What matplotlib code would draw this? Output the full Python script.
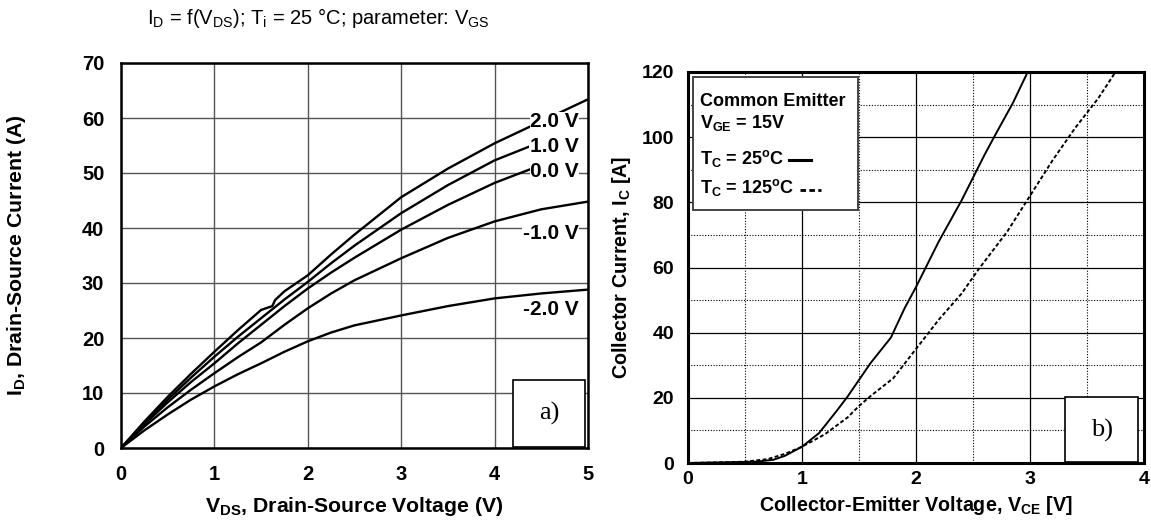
import matplotlib
matplotlib.use("Agg")
import matplotlib.pyplot as plt
from matplotlib.patches import Rectangle
from matplotlib.lines import Line2D
from matplotlib.ticker import MultipleLocator

plt.rcParams["font.family"] = ["Liberation Sans", "DejaVu Sans"]
plt.rcParams["mathtext.default"] = "regular"

SERIF = ["Liberation Serif", "DejaVu Serif"]

# --- a) MOSFET output characteristics, I_D vs V_DS for several V_GS ---
vds = [0.0, 0.25, 0.5, 0.75, 1.0, 1.25, 1.5, 1.75, 2.0, 2.25, 2.5, 3.0, 3.5, 4.0, 4.5, 5.0]
vds_kink = [0.0, 0.25, 0.5, 0.75, 1.0, 1.25, 1.5, 1.62, 1.65, 1.75, 2.0, 2.25, 2.5, 3.0,
            3.5, 4.0, 4.5, 5.0]
vds_short = [0.0, 0.25, 0.5, 0.75, 1.0, 1.25, 1.5, 1.75, 2.0, 2.25, 2.5, 3.0, 3.5, 4.0,
             4.4]

id_2v = [0.0, 4.8, 9.3, 13.5, 17.5, 21.4, 25.1, 25.8, 26.9, 28.5, 31.4, 35.2, 38.8, 45.6,
         50.8, 55.4, 59.4, 63.4]
id_1v = [0.0, 4.6, 8.8, 12.8, 16.6, 20.2, 23.6, 27.0, 30.2, 33.6, 36.8, 42.7, 47.8, 52.3,
         55.0]
id_0v = [0.0, 4.3, 8.3, 12.0, 15.4, 19.0, 22.4, 25.8, 29.0, 31.9, 34.6, 39.7, 44.2, 48.2,
         50.8]
id_m1v = [0.0, 3.9, 7.4, 10.6, 13.6, 16.5, 19.2, 22.4, 25.4, 28.1, 30.5, 34.5, 38.2, 41.2,
          43.4, 44.8]
id_m2v = [0.0, 3.2, 6.1, 8.8, 11.2, 13.4, 15.4, 17.5, 19.4, 21.0, 22.3, 24.1, 25.8, 27.2,
          28.1, 28.8]

vgs_labels = ["2.0 V", "1.0 V", "0.0 V", "-1.0 V", "-2.0 V"]
vgs_label_y = [59.3, 54.9, 50.2, 39.0, 25.2]

# --- b) IGBT output characteristics, I_C vs V_CE at two case temperatures ---
vce_25 = [0.0, 0.3, 0.6, 0.75, 0.85, 1.0, 1.15, 1.3, 1.4, 1.5, 1.6, 1.78, 1.9, 2.0,
          2.1, 2.2, 2.4, 2.6, 2.7, 2.85, 2.98]
ic_25 = [0.0, 0.2, 0.4, 1.0, 2.2, 5.0, 9.2, 15.8, 20.4, 25.5, 30.6, 38.5, 47.5, 54.0,
         61.0, 68.0, 80.6, 94.5, 101.0, 110.5, 120.0]
vce_125 = [0.0, 0.3, 0.5, 0.7, 0.85, 1.0, 1.2, 1.4, 1.5, 1.6, 1.8, 2.0, 2.2, 2.4,
           2.55, 2.8, 3.0, 3.2, 3.4, 3.6, 3.75]
ic_125 = [0.0, 0.2, 0.4, 1.2, 2.8, 5.0, 8.8, 14.0, 17.5, 20.5, 26.0, 35.0, 44.0, 52.0,
          59.5, 71.0, 82.0, 93.0, 103.0, 112.0, 120.0]

fig = plt.figure(figsize=(11.51, 5.22), dpi=100)

# ---------------- panel a ----------------
ax1 = fig.add_axes([121 / 1151, 74 / 522, 467 / 1151, 385 / 522])
curves = [(vds_kink, id_2v), (vds_short, id_1v), (vds_short, id_0v), (vds, id_m1v),
          (vds, id_m2v)]
for (xs, ys), name, ly in zip(curves, vgs_labels, vgs_label_y):
    ax1.plot(xs, ys, color="black", lw=1.7, zorder=3)
    ax1.text(4.9, ly, name, ha="right", va="center", fontsize=15, fontweight="bold",
             zorder=4, bbox=dict(facecolor="white", edgecolor="none", pad=0.3))
ax1.set_xlim(0, 5)
ax1.set_ylim(0, 70)
ax1.xaxis.set_major_locator(MultipleLocator(1))
ax1.yaxis.set_major_locator(MultipleLocator(10))
ax1.grid(True, color="#555555", lw=1.0)
ax1.set_axisbelow(True)
for s in ax1.spines.values():
    s.set_linewidth(1.8)
ax1.tick_params(length=0, pad=12, labelsize=14.5)
for lab in ax1.get_xticklabels() + ax1.get_yticklabels():
    lab.set_fontweight("bold")
ax1.set_xlabel("V$_{DS}$, Drain-Source Voltage (V)", fontsize=15.3, fontweight="bold",
               labelpad=8)
ax1.set_ylabel("I$_D$, Drain-Source Current (A)", fontsize=15.3, fontweight="bold",
               labelpad=39)
ax1.add_patch(Rectangle((4.2, 0.2), 0.77, 12.2, facecolor="white", edgecolor="black",
                        lw=1.2, zorder=5))
ax1.text(4.585, 6.3, "a)", ha="center", va="center", fontsize=19, family=SERIF, zorder=6)

fig.text(318 / 1151, 1 - 18 / 522,
         "I$_D$ = f(V$_{DS}$); T$_i$ = 25 \u00b0C; parameter: V$_{GS}$",
         ha="center", va="center", fontsize=14.5)

# ---------------- panel b ----------------
ax2 = fig.add_axes([688 / 1151, 59 / 522, 456 / 1151, 391 / 522])
ax2.plot(vce_25, ic_25, color="black", lw=1.4, zorder=3)
ax2.plot(vce_125, ic_125, color="black", lw=1.4, ls=(0, (2, 1.2)), zorder=3)
ax2.set_xlim(0, 4)
ax2.set_ylim(0, 120)
ax2.xaxis.set_major_locator(MultipleLocator(1))
ax2.xaxis.set_minor_locator(MultipleLocator(0.5))
ax2.yaxis.set_major_locator(MultipleLocator(20))
ax2.yaxis.set_minor_locator(MultipleLocator(10))
ax2.grid(True, which="major", color="black", lw=0.9)
ax2.grid(True, which="minor", color="black", lw=0.8, ls=(0, (1, 1.5)))
ax2.set_axisbelow(True)
for s in ax2.spines.values():
    s.set_linewidth(2.2)
ax2.tick_params(which="both", length=0, labelsize=14)
ax2.tick_params(axis="y", pad=10)
ax2.tick_params(axis="x", pad=6)
for lab in ax2.get_xticklabels() + ax2.get_yticklabels():
    lab.set_fontweight("bold")
ax2.set_xlabel("Collector-Emitter Voltage, V$_{CE}$ [V]", fontsize=14.2,
               fontweight="bold", labelpad=4)
ax2.set_ylabel("Collector Current, I$_C$ [A]", fontsize=14.2, fontweight="bold",
               labelpad=6)

ax2.add_patch(Rectangle((0.04, 77.5), 1.45, 41.0, facecolor="white", edgecolor="#444444",
                        lw=1.4, zorder=5))
ax2.add_patch(Rectangle((3.31, 0.4), 0.64, 20.0, facecolor="white", edgecolor="black",
                        lw=1.2, zorder=5))
ax2.text(3.63, 10.0, "b)", ha="center", va="center", fontsize=19, family=SERIF, zorder=6)

leg_txt = dict(fontsize=13, fontweight="bold", ha="left", va="center", zorder=6)
ax2.text(0.105, 110.8, "Common Emitter", **leg_txt)
ax2.text(0.105, 104.2, "V$_{GE}$ = 15V", **leg_txt)
ax2.text(0.105, 93.6, "T$_C$ = 25$^{o}$C", **leg_txt)
ax2.text(0.105, 84.4, "T$_C$ = 125$^{o}$C", **leg_txt)
ax2.add_line(Line2D([0.89, 1.08], [93.0, 93.0], color="black", lw=2.2, zorder=6))
ax2.add_line(Line2D([0.98, 1.17], [83.8, 83.8], color="black", lw=2.0,
                    ls=(0, (2, 1.2)), zorder=6))

fig.savefig("out.png", dpi=100)
